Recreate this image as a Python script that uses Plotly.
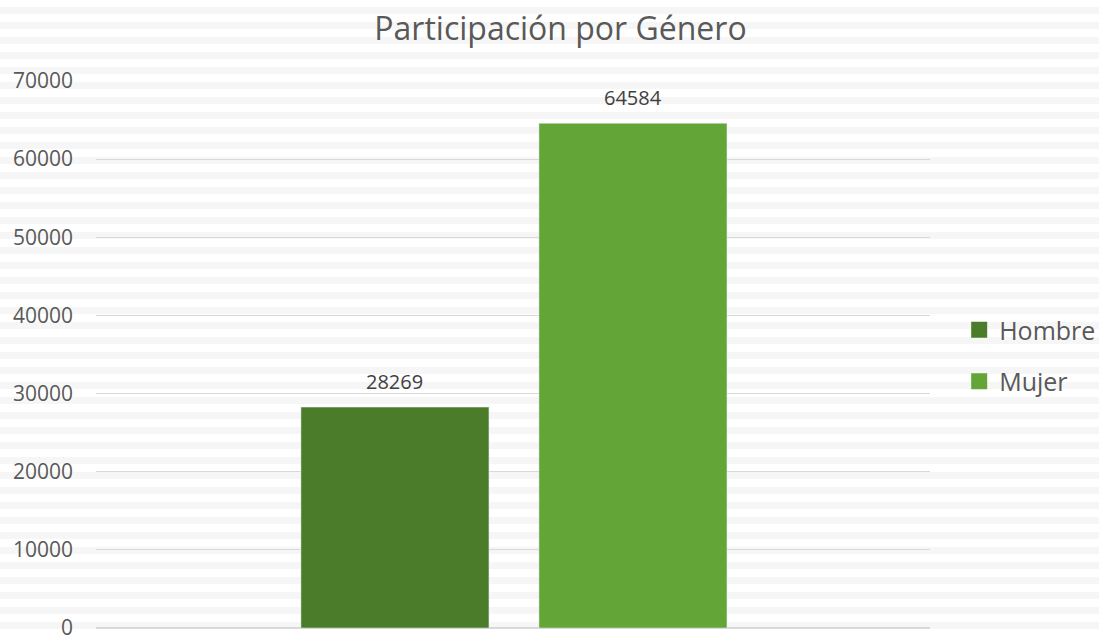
import plotly.graph_objects as go

categories = ["Hombre", "Mujer"]
values = [28269, 64584]
colors = ["#4a7c2a", "#63a537"]
y_ticks = [0, 10000, 20000, 30000, 40000, 50000, 60000, 70000]

W, H = 1099, 636
ML, MR, MT, MB = 96, 169, 81, 8
plot_h = H - MT - MB

fig = go.Figure()
for name, val, col in zip(categories, values, colors):
    fig.add_trace(
        go.Bar(
            x=[name],
            y=[val],
            name=name,
            marker_color=col,
            showlegend=False,
            hoverinfo="x+y",
        )
    )
    fig.add_annotation(
        x=name,
        y=val,
        text=str(val),
        showarrow=False,
        yanchor="middle",
        yshift=26,
        font=dict(size=20, color="#404040"),
    )
    # legend entries with larger square markers
    fig.add_trace(
        go.Scatter(
            x=[None],
            y=[None],
            mode="markers",
            name=name,
            legendgroup=name,
            marker=dict(symbol="square", size=17, color=col),
        )
    )

# faint horizontal stripes of the background watermark
shapes = []
for top in range(-8, H + 15, 15):
    y0 = (H - MB - (top + 7)) / plot_h
    y1 = (H - MB - top) / plot_h
    shapes.append(
        dict(
            type="rect",
            xref="paper",
            yref="paper",
            x0=-0.2,
            x1=1.3,
            y0=y0,
            y1=y1,
            fillcolor="#f6f6f6",
            line=dict(width=0),
            layer="below",
        )
    )

fig.update_layout(
    width=W,
    height=H,
    barmode="overlay",
    bargap=0.21,
    paper_bgcolor="#ffffff",
    plot_bgcolor="rgba(0,0,0,0)",
    font=dict(family="Open Sans, Noto Sans, sans-serif", color="#595959"),
    title=dict(
        text="Participación por Género",
        x=0.51,
        xanchor="center",
        y=0.955,
        yanchor="middle",
        font=dict(size=32, color="#595959"),
    ),
    margin=dict(l=ML, r=MR, t=MT, b=MB, autoexpand=False),
    legend=dict(
        x=1.035,
        y=0.498,
        xanchor="left",
        yanchor="middle",
        font=dict(size=25, color="#595959"),
        itemsizing="trace",
        traceorder="grouped",
        tracegroupgap=16,
        bgcolor="rgba(0,0,0,0)",
    ),
    shapes=shapes,
)
fig.update_yaxes(
    range=[0, 70000],
    tickvals=y_ticks,
    ticktext=[str(t) for t in y_ticks],
    tickfont=dict(size=21, color="#595959"),
    gridcolor="#d9d9d9",
    gridwidth=1,
    zeroline=True,
    zerolinecolor="#d9d9d9",
    ticklabelstandoff=22,
    ticklabeloverflow="allow",
    automargin=False,
)
fig.update_xaxes(
    showticklabels=False,
    showgrid=False,
    range=[-1.256, 2.248],
    fixedrange=True,
    automargin=False,
)

fig.write_html(
    "out.html",
    config={"displayModeBar": False},
    post_script="document.body.style.margin='0';",
)
